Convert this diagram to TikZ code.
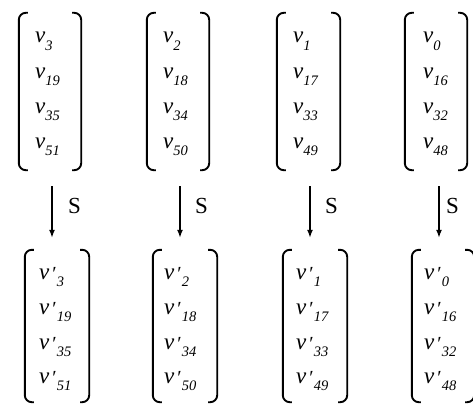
\documentclass[tikz,border=0pt]{standalone}
\usepackage{fontspec}
\setmainfont{Liberation Serif}
\usetikzlibrary{arrows.meta}

% entries of the state vectors
\newcommand\vsym{{\fontsize{23}{25}\selectfont\itshape v}}
\newcommand\vsub[1]{\raisebox{-7pt}{\fontsize{14.5}{15}\selectfont\itshape #1}}
\newcommand\vent[1]{\vsym\vsub{#1}}
\newcommand\vprime{\hspace{3pt}\raisebox{-1.5pt}{\fontsize{20}{22}\selectfont\symbol{"2032}}}
\newcommand\vpent[1]{\vsym\vprime\vsub{#1}}

\tikzset{
  vecbox/.style={draw=none, inner sep=0pt},
  paren/.style={line width=1.9pt, rounded corners=7pt},
  entry/.style={anchor=base west, inner sep=0pt},
  sarrow/.style={line width=1.5pt, -{Latex[length=8pt,width=6pt]}},
  slabel/.style={anchor=base west, inner sep=0pt, font=\fontsize{23}{25}\selectfont},
}

\begin{document}
\begin{tikzpicture}[x=1pt,y=-1pt]
\useasboundingbox (0,0) rectangle (473,404);

% vector frames: top row (input), bottom row (output of S)
\node[vecbox, minimum width=62pt, minimum height=157pt] (t1) at (50,91.5) {};
\node[vecbox, minimum width=62pt, minimum height=157pt] (t2) at (178,91.5) {};
\node[vecbox, minimum width=63pt, minimum height=157pt] (t3) at (308.5,91.5) {};
\node[vecbox, minimum width=62pt, minimum height=157pt] (t4) at (436,91.5) {};
\node[vecbox, minimum width=64pt, minimum height=152pt] (b1) at (57,326) {};
\node[vecbox, minimum width=64pt, minimum height=152pt] (b2) at (185,326) {};
\node[vecbox, minimum width=64pt, minimum height=152pt] (b3) at (315,326) {};
\node[vecbox, minimum width=62pt, minimum height=152pt] (b4) at (443,326) {};

\foreach \n in {t1,t2,t3,t4,b1,b2,b3,b4}{
  \draw[paren] ([xshift=9pt]\n.north west) -- (\n.north west) -- (\n.south west) -- ([xshift=9pt]\n.south west);
  \draw[paren] ([xshift=-9pt]\n.north east) -- (\n.north east) -- (\n.south east) -- ([xshift=-9pt]\n.south east);
}

% top vector entries
\foreach \c/\x/\a/\b/\cc/\d in {1/35/3/19/35/51, 2/163/2/18/34/50, 3/293/1/17/33/49, 4/423/0/16/32/48}{
  \node[entry] (ta\c) at (\x,43) {\vent{\a}};
  \node[entry] (tb\c) at (\x,78) {\vent{\b}};
  \node[entry] (tc\c) at (\x,113) {\vent{\cc}};
  \node[entry] (td\c) at (\x,148) {\vent{\d}};
}

% bottom vector entries
\foreach \c/\x/\a/\b/\cc/\d in {1/39/3/19/35/51, 2/164/2/18/34/50, 3/296/1/17/33/49, 4/424/0/16/32/48}{
  \node[entry] (ba\c) at (\x,279) {\vpent{\a}};
  \node[entry] (bb\c) at (\x,314) {\vpent{\b}};
  \node[entry] (bc\c) at (\x,349) {\vpent{\cc}};
  \node[entry] (bd\c) at (\x,383) {\vpent{\d}};
}

% S-box arrows
\coordinate (sbase) at (0,213);
\foreach \c/\dx/\sx in {1/2/16, 2/2/15, 3/1.5/15, 4/3/7}{
  \coordinate (s\c) at ([shift={(\dx pt,-16pt)}]t\c.south);
  \coordinate (e\c) at (s\c |- b\c.north);
  \coordinate (l\c) at (s\c |- sbase);
  \draw[sarrow] (s\c) -- ([yshift=12pt]e\c);
  \node[slabel] (S\c) at ([xshift=\sx pt]l\c) {S};
}
\end{tikzpicture}
\end{document}
